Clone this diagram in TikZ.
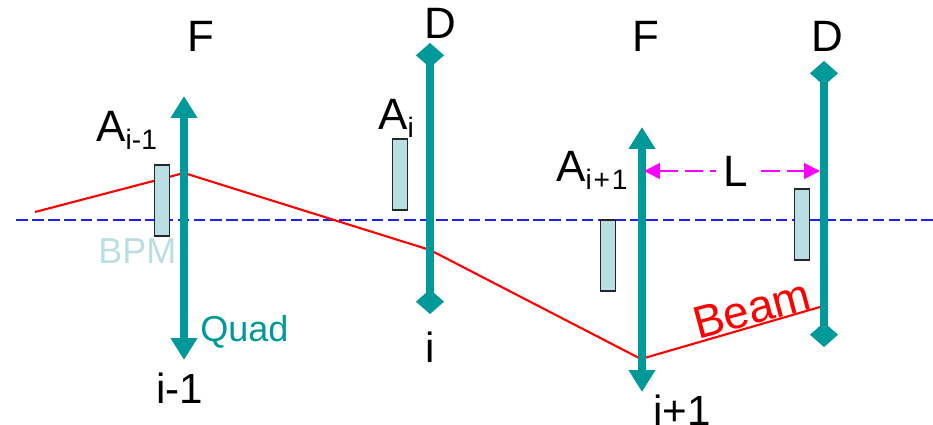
\documentclass[tikz,border=0pt]{standalone}
\usepackage{fontspec}
\setmainfont{Liberation Sans}
\usetikzlibrary{arrows.meta, positioning}
\definecolor{quadteal}{HTML}{009999}
\definecolor{bpmblue}{HTML}{BADFE3}
\definecolor{axisblue}{HTML}{2020F0}
\definecolor{spanpink}{HTML}{FF00FF}
\newcommand{\bigfont}{\fontsize{25}{25}\selectfont}
\newcommand{\subfont}{\fontsize{16}{16}\selectfont}
\newcommand{\subA}[1]{\bigfont A\subfont\raisebox{-4.5pt}{#1}}
\tikzset{
  lbl/.style={inner sep=0pt, anchor=base west, font=\bigfont, text=black},
  idx/.style={lbl, font=\fontsize{24}{24}\selectfont},
  tag/.style={lbl, font=\fontsize{20.5}{20.5}\selectfont},
  bpm/.style={draw=black!85, line width=0.8pt, fill=bpmblue, inner sep=0pt, minimum width=0.3cm, minimum height=1.42cm},
  focus/.style={quadteal, line width=5.1pt, {Triangle[length=12.5pt, width=14.5pt]}-{Triangle[length=12.5pt, width=14.5pt]}},
  defocus/.style={quadteal, line width=5.1pt, {Diamond[length=14pt, width=16pt]}-{Diamond[length=14pt, width=16pt]}},
  beam/.style={red, line width=1.2pt},
  axis/.style={axisblue, line width=0.8pt, dash pattern=on 6.6pt off 2.6pt},
  span/.style={spanpink, line width=0.9pt, dash pattern=on 10.5pt off 4pt, {Triangle[length=9pt, width=9pt]}-{Triangle[length=9pt, width=9pt]}},
}
\begin{document}
\begin{tikzpicture}[x=0.02cm, y=-0.02cm]
    \useasboundingbox (0,0) rectangle (933,425);
    \coordinate (axisl) at (16,220);
    \coordinate (axisr) at (933,220);
    \coordinate (b0) at (35,212);
    \coordinate (b1) at (184,173);
    \coordinate (b2) at (430,250);
    \coordinate (b3) at (641,359);
    \coordinate (b4) at (820,307);
    \coordinate (f1top) at (184,96);
    \coordinate (f1bot) at (184,360);
    \coordinate (d1top) at (430,43);
    \coordinate (d1bot) at (430,314);
    \coordinate (f2top) at (642,127);
    \coordinate (f2bot) at (642,392);
    \coordinate (d2top) at (824,61);
    \coordinate (d2bot) at (824,347);
    \coordinate (spanl) at (644,171);
    \coordinate (spanr) at (820,171);
    \draw[axis] (axisl) -- (axisr);
    \draw[beam] (b0) -- (b1) -- (b2) -- (b3) -- (b4);
    \draw[focus] (f1bot) -- (f1top);
    \draw[defocus] (d1bot) -- (d1top);
    \draw[focus] (f2bot) -- (f2top);
    \draw[defocus] (d2bot) -- (d2top);
    \node[bpm] (bpm1) at (162,200.5) {};
    \node[bpm] (bpm2) at (400,174.5) {};
    \node[bpm] (bpm3) at (608,255.5) {};
    \node[bpm] (bpm4) at (802,224.5) {};
    \draw[span] (spanl) -- node[pos=0.52, fill=white, inner xsep=4pt, inner ysep=0pt, font=\bigfont, text=black] (len) {L} (spanr);
    \node[lbl] (fa) at (187,52) {F};
    \node[lbl] (da) at (424,39) {D};
    \node[lbl] (fb) at (632,52) {F};
    \node[lbl] (db) at (811,52) {D};
    \node[lbl] (ai1) at (96,142) {\subA{i-1}};
    \node[lbl] (ai2) at (378,130) {\subA{i}};
    \node[lbl] (ai3) at (556,182) {\subA{i\kern1pt+\kern1pt1}};
    \node[idx] (na) at (156,403) {i-1};
    \node[idx] (nb) at (425,363) {i};
    \node[idx] (nc) at (653,425) {i+1};
    \node[tag, text=bpmblue] (bpmlbl) at (98,264) {BPM};
    \node[tag, text=quadteal] (quadlbl) at (200,342) {Quad};
    \node[font=\fontsize{26}{26}\selectfont, text=red, rotate=15, inner sep=0pt] (beamlbl) at (752,309) {Beam};
\end{tikzpicture}
\end{document}
